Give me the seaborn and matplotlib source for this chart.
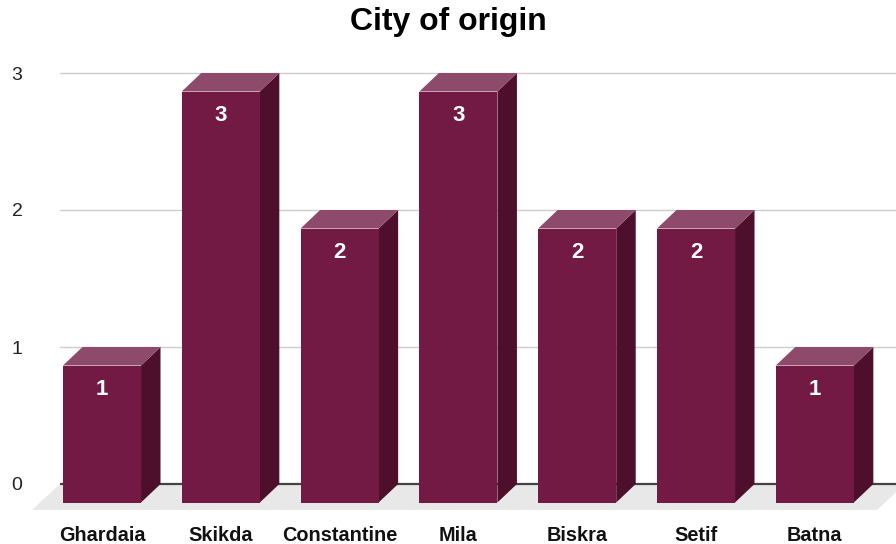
import matplotlib
matplotlib.use("Agg")
import matplotlib.pyplot as plt
from matplotlib.patches import Polygon
import seaborn as sns
import pandas as pd

cities = ["Ghardaia", "Skikda", "Constantine", "Mila", "Biskra", "Setif", "Batna"]
counts = [1, 3, 2, 3, 2, 2, 1]
y_ticks = [0, 1, 2, 3]

FRONT = "#721944"
SIDE = "#4E0F2D"
TOP = "#8D4A6B"
FLOOR = "#E8E8E8"
GRID = "#CCCCCC"
BASE = "#444444"

sns.set_theme(style="white")
plt.rcParams["font.family"] = ["Liberation Sans", "DejaVu Sans"]

W, H = 896, 544
fig = plt.figure(figsize=(W / 100, H / 100), dpi=100)

# plot area in pixels (left, right, bottom, top measured from the top edge)
L, R, B, T = 60, 896, 515, 66
ax = fig.add_axes([L / W, (H - B) / H, (R - L) / W, (B - T) / H])

df = pd.DataFrame({"city": cities, "count": counts})
bar_w = 0.657
sns.barplot(data=df, x="city", y="count", color=FRONT, saturation=1,
            width=bar_w, errorbar=None, linewidth=0, edgecolor="none",
            ax=ax, zorder=4)

# scale of the back plane: pixels per category step and per unit count
step_px = 118.8
unit_px = 137.0
zero_px = 484
x0 = -(121.5 - L) / step_px
ax.set_xlim(x0, x0 + (R - L) / step_px)
ax.set_ylim(-(B - zero_px) / unit_px, (zero_px - T) / unit_px)

# depth of the extruded boxes, in data units
ddx = 19.5 / step_px
ddy = 18.5 / unit_px

for patch, v in zip(ax.patches, counts):
    x = patch.get_x() - ddx
    w = patch.get_width()
    patch.set_x(x)
    patch.set_y(-ddy)
    side = Polygon([(x + w, -ddy), (x + w + ddx, 0), (x + w + ddx, v), (x + w, v - ddy)],
                   closed=True, facecolor=SIDE, edgecolor="none", zorder=3)
    top = Polygon([(x, v - ddy), (x + ddx, v), (x + w + ddx, v), (x + w, v - ddy)],
                  closed=True, facecolor=TOP, edgecolor="none", zorder=3)
    ax.add_patch(side)
    ax.add_patch(top)
    ax.text(x + w / 2, v - ddy - 24 / unit_px, str(v), ha="center", va="center",
            color="white", fontsize=16, fontweight="bold", zorder=5)

# floor under the bars
fdx = 28 / step_px
fdy = 26 / unit_px
xl, xr = ax.get_xlim()
xr_ext = xr + 9 / step_px
floor = Polygon([(xl, 0), (xr_ext, 0), (xr_ext - fdx, -fdy), (xl - fdx, -fdy)],
                closed=True, facecolor=FLOOR, edgecolor="none", zorder=1, clip_on=False)
ax.add_patch(floor)
ax.axhline(0, color=BASE, lw=1.6, zorder=2)

ax.set_yticks(y_ticks)
ax.set_yticklabels([str(t) for t in y_ticks])
ax.yaxis.grid(True, color=GRID, lw=1)
ax.set_axisbelow(True)
ax.set_xticks([i - ddx for i in range(len(cities))])
ax.set_xticklabels(cities, fontweight="bold", fontsize=14.3)
ax.tick_params(axis="y", length=0, pad=27, labelsize=14, colors="#222222")
ax.tick_params(axis="x", length=0, pad=8, colors="#111111")
ax.set_xlabel("")
ax.set_ylabel("")
for s in ax.spines.values():
    s.set_visible(False)

fig.text(0.5, 1 - 22 / H, "City of origin", ha="center", va="center",
         fontsize=23, fontweight="bold", color="#000000")

fig.savefig("out.png", dpi=100)
